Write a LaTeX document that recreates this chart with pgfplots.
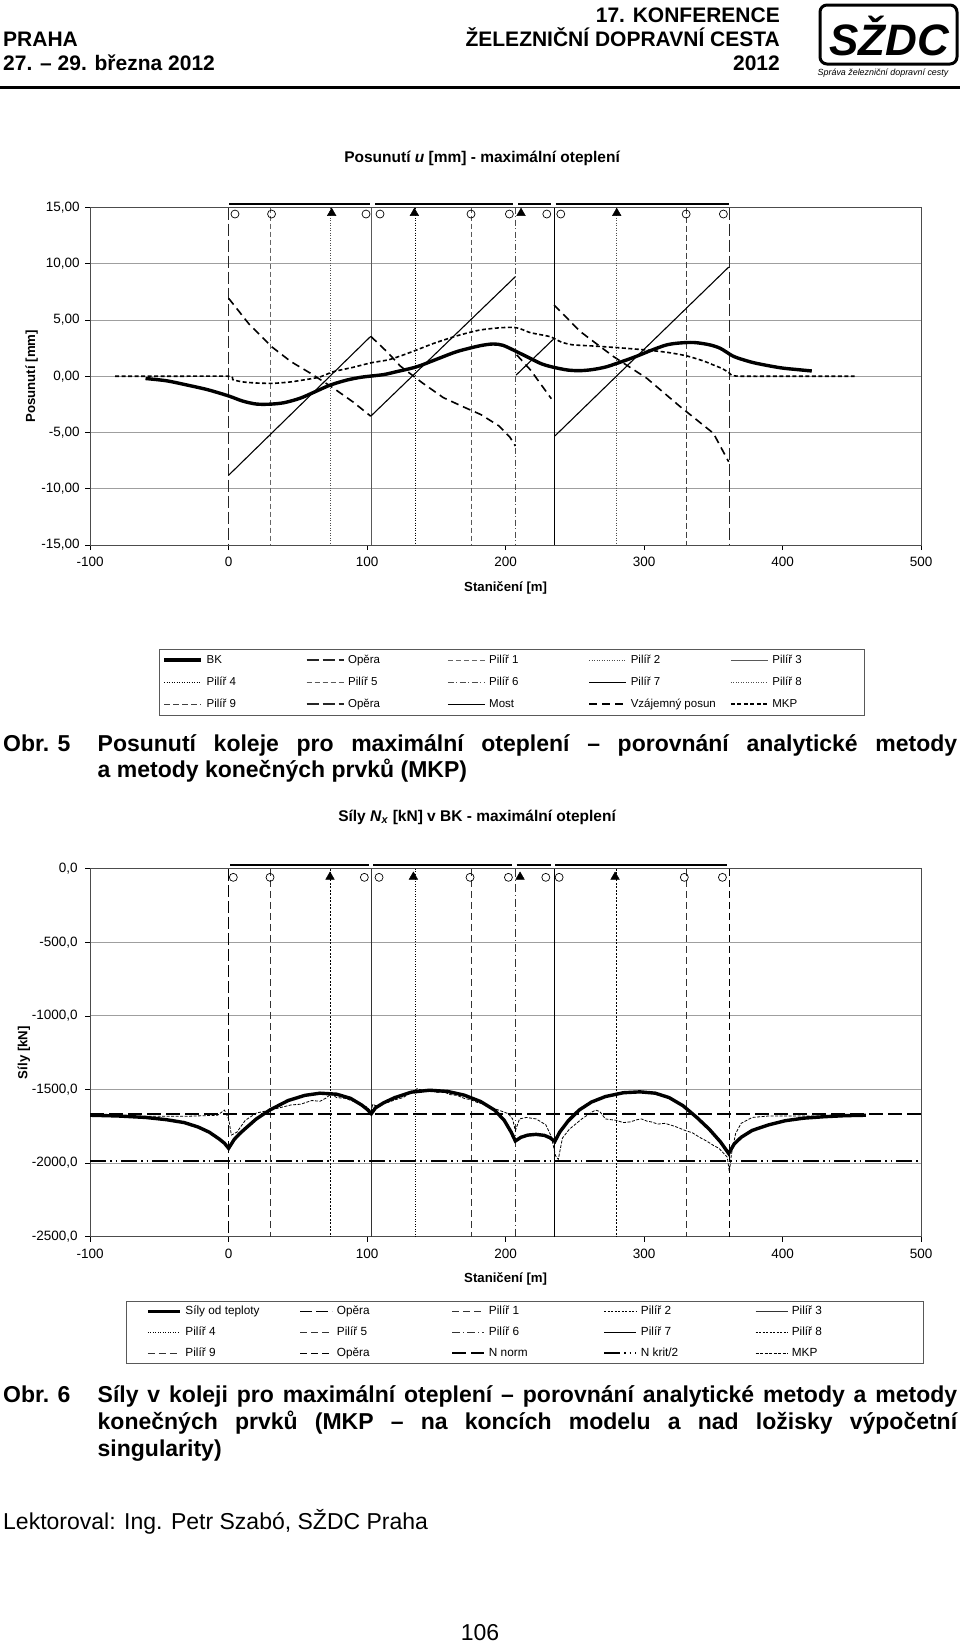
\documentclass[border=0pt]{standalone}
\usepackage{pgfplots}
\pgfplotsset{compat=1.18}
\usepackage{fontspec}
\setmainfont{Liberation Sans}
\newcommand\hdrfont{\fontsize{21}{25}\selectfont\bfseries}
\newcommand\capfont{\fontsize{23}{26.5}\selectfont\bfseries}
\newcommand\bodyfont{\fontsize{23}{26.5}\selectfont}
\newcommand\la[1]{\makebox[85pt][l]{#1}}
\newcommand\lb[1]{\makebox[108pt][l]{#1}}
\tikzset{
 c1bk/.style={black, line width=3.4pt},
 c1op/.style={black!85, line width=1.5pt, dash pattern=on 12pt off 4pt},
 c1p1/.style={gray!80!black, line width=0.7pt, dash pattern=on 5pt off 3pt},
 c1p2/.style={gray!60!black, line width=0.7pt, dash pattern=on 1pt off 1.5pt},
 c1p3/.style={gray!70!black, line width=0.7pt},
 c1p4/.style={black, line width=0.7pt, dash pattern=on 1pt off 1.5pt},
 c1p5/.style={gray!70!black, line width=0.7pt, dash pattern=on 5pt off 3pt},
 c1p6/.style={gray!60!black, line width=0.7pt, dash pattern=on 6pt off 2.5pt on 1pt off 2.5pt},
 c1p7/.style={black, line width=0.8pt},
 c1p8/.style={gray!60!black, line width=0.7pt, dash pattern=on 1pt off 1.5pt},
 c1p9/.style={gray!50!black, line width=0.8pt, dash pattern=on 6pt off 3pt},
 c1most/.style={black, line width=1.1pt},
 c1vz/.style={black, line width=1.6pt, dash pattern=on 8pt off 5pt},
 c1mkp/.style={black, line width=1.6pt, dash pattern=on 4pt off 2.5pt},
 c2sily/.style={black, line width=3.4pt},
 c2op/.style={black, line width=1.5pt, dash pattern=on 12pt off 4pt},
 c2p1/.style={black!80, line width=0.8pt, dash pattern=on 7pt off 4pt},
 c2p2/.style={black, line width=1pt, dash pattern=on 2pt off 1.5pt},
 c2p3/.style={black!80, line width=0.7pt},
 c2p4/.style={black, line width=0.7pt, dash pattern=on 1pt off 1.5pt},
 c2p5/.style={black!80, line width=0.8pt, dash pattern=on 7pt off 4pt},
 c2p6/.style={black!80, line width=0.8pt, dash pattern=on 8pt off 3pt on 1pt off 3pt},
 c2p7/.style={black, line width=0.8pt},
 c2p8/.style={black, line width=0.9pt, dash pattern=on 2pt off 1.5pt},
 c2p9/.style={black!80, line width=0.8pt, dash pattern=on 7pt off 4pt},
 c2op2/.style={black, line width=0.9pt, dash pattern=on 7pt off 4pt},
 c2nn/.style={black, line width=2pt, dash pattern=on 14pt off 5pt},
 c2nk/.style={black, line width=2pt, dash pattern=on 16pt off 4pt on 1.5pt off 4pt on 1.5pt off 4pt},
 c2mkp/.style={black, line width=0.8pt, dash pattern=on 3pt off 1.5pt},
}
\pgfplotsset{
 every axis title shift=0pt,
 pagechart/.style={
  scale only axis, width=831.1pt,
  xmin=-100, xmax=500, clip=false,
  xtick={-100,0,100,200,300,400,500},
  xticklabels={-100,0,100,200,300,400,500},
  tick pos=left, tick align=outside, major tick length=5pt,
  tick style={black, line width=0.8pt},
  ymajorgrids, grid style={gray!75, line width=0.9pt},
  axis line style={gray!60!black, line width=0.9pt},
  ticklabel style={font=\fontsize{13.5}{16}\selectfont},
  xticklabel style={yshift=-4pt},
  label style={font=\fontsize{13.2}{15}\selectfont\bfseries},
  legend cell align=left,
 }
}
\begin{document}
\begin{tikzpicture}
\path[use as bounding box] (0pt,0pt) rectangle (960pt,-1644pt);
% header
\node[anchor=base west, inner sep=0, font=\hdrfont] at (3pt,-46.3pt) {PRAHA};
\node[anchor=base west, inner sep=0, font=\hdrfont] at (3pt,-70.4pt) {27. – 29. března 2012};
\node[anchor=base east, inner sep=0, font=\hdrfont] at (780pt,-22.2pt) {17. KONFERENCE};
\node[anchor=base east, inner sep=0, font=\hdrfont] at (780pt,-46.3pt) {ŽELEZNIČNÍ DOPRAVNÍ CESTA};
\node[anchor=base east, inner sep=0, font=\hdrfont] at (780pt,-70.4pt) {2012};
\draw[line width=3pt, rounded corners=7pt] (820pt,-5pt) rectangle (957pt,-64pt);
\node[inner sep=0, font=\fontsize{44}{44}\selectfont\bfseries\itshape] at (889pt,-36pt) {SŽDC};
\node[anchor=base, inner sep=0, font=\fontsize{8.9}{10}\selectfont\itshape] at (883pt,-75pt) {Správa železniční dopravní cesty};
\draw[line width=3pt] (0pt,-87pt) -- (960pt,-87pt);

% ---------------- chart 1 ----------------
\begin{axis}[pagechart,
  at={(90.1pt,-545pt)}, anchor=south west, height=337.5pt,
  ymin=-15, ymax=15,
  ytick={-15,-10,-5,0,5,10,15},
  yticklabels={{-15,00},{-10,00},{-5,00},{0,00},{5,00},{10,00},{15,00}},
  yticklabel style={xshift=-2pt},
  xlabel={Staničení [m]}, ylabel={Posunutí [mm]},
  xlabel style={at={(axis description cs:0.5,-0.127)}, anchor=center},
  ylabel style={at={(axis description cs:-0.0585,0.5)}, anchor=south},
  title={Posunutí \textit{u} [mm] - maximální oteplení},
  title style={at={(axis description cs:0.4716,1.1467)}, anchor=center, font=\fontsize{15.5}{18}\selectfont\bfseries},
  legend image code/.code={\draw[#1] (0pt,0pt) -- (37pt,0pt);},
  legend style={at={(axis description cs:0.0829,-0.308)}, anchor=north west,
    draw=gray!70!black, line width=0.8pt, legend columns=5,
    font=\fontsize{11.5}{13}\selectfont, inner xsep=3pt, inner ysep=1.5pt, row sep=3.4pt,
    /tikz/every even column/.append style={column sep=10.4pt},
    nodes={inner sep=3.8pt, text height=8.5pt, text depth=2.5pt}},
]
\addplot[forget plot, c1op] coordinates {(0,15) (0,-15)};
\addplot[forget plot, c1p1] coordinates {(30,15) (30,-15)};
\addplot[forget plot, c1p2] coordinates {(73.5,15) (73.5,-15)};
\addplot[forget plot, c1p3] coordinates {(103,15) (103,-15)};
\addplot[forget plot, c1p4] coordinates {(134.5,15) (134.5,-15)};
\addplot[forget plot, c1p5] coordinates {(175,15) (175,-15)};
\addplot[forget plot, c1p6] coordinates {(207,15) (207,-15)};
\addplot[forget plot, c1p7] coordinates {(235.5,15) (235.5,-15)};
\addplot[forget plot, c1p8] coordinates {(280,15) (280,-15)};
\addplot[forget plot, c1p9] coordinates {(330.5,15) (330.5,-15)};
\addplot[forget plot, c1op] coordinates {(361.5,15) (361.5,-15)};
% bridge deck
\addplot[forget plot, black, line width=2.6pt, unbounded coords=jump] coordinates {(0.5,15.31) (102,15.31) (103,nan) (106,15.31) (205.5,15.31) (207,nan) (209,15.31) (233,15.31) (234,nan) (236,15.31) (361,15.31)};
% bearings
\addplot[forget plot, only marks, mark=o, mark size=4pt, mark options={black, fill=white, line width=0.7pt}] coordinates {(4.6,14.42) (31,14.42) (99.2,14.42) (109.3,14.42) (175,14.42) (202.7,14.42) (229.7,14.42) (239.8,14.42) (330.3,14.42) (357.2,14.42)};
\addplot[forget plot, only marks, mark=triangle*, mark size=5pt, black] coordinates {(74.4,14.5) (134.1,14.5) (211.1,14.5) (280.2,14.5)};
% Most
\addplot[forget plot, c1most, unbounded coords=jump] coordinates {(0,-8.8) (102.6,3.55) (102.8,nan) (102.6,-3.55) (207,8.85) (207.2,nan) (207.5,0.1) (234.5,3.3) (235,nan) (235.6,-5.3) (361,9.7)};
% Vzajemny posun
\addplot[forget plot, c1vz, unbounded coords=jump] coordinates {(0,6.93) (15,4.6) (31,2.63) (45,1.3) (60,0.2) (75,-1.0) (90,-2.3) (102.6,-3.55) (102.8,nan) (102.6,3.55) (115,2.1) (124,0.9) (140,-0.6) (155,-1.9) (170,-2.75) (182,-3.4) (195,-4.4) (203,-5.4) (207,-6.2) (207.5,nan) (208,1.9) (218,0.55) (233,-2.0) (234,nan) (235,6.33) (254,3.96) (278,1.74) (302,-0.19) (326,-2.7) (350,-5.07) (361,-7.6)};
% MKP
\addplot[forget plot, c1mkp, smooth, tension=0.4] coordinates {(-82,0) (-40,0) (0,0) (3,-0.3) (10,-0.5) (20,-0.6) (32,-0.63) (45,-0.5) (58,-0.25) (66,-0.06) (75.5,0.4) (90,0.8) (103,1.2) (115,1.45) (124,1.8) (135,2.3) (148,2.92) (165,3.6) (181,4.1) (195,4.3) (205.6,4.35) (211,4.2) (218,3.87) (232,3.52) (240,3.05) (248,2.8) (263,2.69) (280,2.55) (302,2.33) (318,2.1) (331,1.8) (343,1.35) (350,1.0) (356,0.7) (361,0.35) (366,0.02) (400,0) (452,0)};
% BK
\addplot[forget plot, c1bk, smooth, tension=0.5] coordinates {(-60,-0.2) (-45,-0.4) (-30,-0.78) (-15,-1.2) (0,-1.75) (10,-2.2) (20,-2.47) (30,-2.48) (40,-2.35) (51.5,-1.96) (62,-1.4) (73,-0.8) (85,-0.35) (95,-0.1) (103,0.02) (112,0.15) (121,0.4) (136,0.85) (152,1.6) (165,2.2) (181,2.7) (191,2.87) (198,2.75) (205.6,2.33) (217.6,1.6) (226,1.1) (234.5,0.8) (245,0.55) (254,0.5) (263,0.6) (273,0.85) (285,1.35) (295,1.8) (305,2.3) (316,2.78) (325,2.95) (336,3.0) (347,2.8) (355,2.48) (364,1.8) (372,1.45) (381,1.15) (398,0.76) (410,0.6) (421,0.47)};
% legend
\addlegendimage{c1bk}\addlegendentry{\la{BK}}
\addlegendimage{c1op}\addlegendentry{\la{Opěra}}
\addlegendimage{c1p1}\addlegendentry{\la{Pilíř 1}}
\addlegendimage{c1p2}\addlegendentry{\la{Pilíř 2}}
\addlegendimage{c1p3}\addlegendentry{\la{Pilíř 3}}
\addlegendimage{c1p4}\addlegendentry{\la{Pilíř 4}}
\addlegendimage{c1p5}\addlegendentry{\la{Pilíř 5}}
\addlegendimage{c1p6}\addlegendentry{\la{Pilíř 6}}
\addlegendimage{c1p7}\addlegendentry{\la{Pilíř 7}}
\addlegendimage{c1p8}\addlegendentry{\la{Pilíř 8}}
\addlegendimage{c1p9}\addlegendentry{\la{Pilíř 9}}
\addlegendimage{c1op}\addlegendentry{\la{Opěra}}
\addlegendimage{c1most}\addlegendentry{\la{Most}}
\addlegendimage{c1vz}\addlegendentry{\la{Vzájemný posun}}
\addlegendimage{c1mkp}\addlegendentry{\la{MKP}}
\end{axis}

% caption 5
\node[anchor=base west, inner sep=0, font=\capfont] at (3pt,-751pt) {Obr. 5};
\node[anchor=base west, inner sep=0, font=\capfont] at (97.5pt,-751pt) {\makebox[859.5pt][s]{Posunutí koleje pro maximální oteplení – porovnání analytické metody}};
\node[anchor=base west, inner sep=0, font=\capfont] at (97.5pt,-777pt) {a metody konečných prvků (MKP)};

% ---------------- chart 2 ----------------
\begin{axis}[pagechart,
  at={(90.1pt,-1236.6pt)}, anchor=south west, height=367.8pt,
  ymin=-2500, ymax=0,
  ytick={-2500,-2000,-1500,-1000,-500,0},
  yticklabels={{-2500,0},{-2000,0},{-1500,0},{-1000,0},{-500,0},{0,0}},
  yticklabel style={xshift=-4pt},
  xlabel={Staničení [m]}, ylabel={Síly [kN]},
  xlabel style={at={(axis description cs:0.5,-0.114)}, anchor=center},
  ylabel style={at={(axis description cs:-0.0678,0.5)}, anchor=south},
  title={Síly \textit{N}\textsubscript{\textit{x}} [kN] v BK - maximální oteplení},
  title style={at={(axis description cs:0.4656,1.1395)}, anchor=center, font=\fontsize{15.5}{18}\selectfont\bfseries},
  legend image code/.code={\draw[#1] (0pt,0pt) -- (32pt,0pt);},
  legend style={at={(axis description cs:0.043,-0.174)}, anchor=north west,
    draw=gray!70!black, line width=0.8pt, legend columns=5,
    font=\fontsize{11.8}{13}\selectfont, inner xsep=20pt, inner ysep=1pt, row sep=2.4pt,
    /tikz/every even column/.append style={column sep=2.4pt},
    nodes={inner sep=3.8pt, text height=8.5pt, text depth=2.5pt}},
]
\addplot[forget plot, c2op] coordinates {(0,0) (0,-2500)};
\addplot[forget plot, c2p1] coordinates {(30,0) (30,-2500)};
\addplot[forget plot, c2p2] coordinates {(73.5,0) (73.5,-2500)};
\addplot[forget plot, c2p3] coordinates {(103,0) (103,-2500)};
\addplot[forget plot, c2p4] coordinates {(134.5,0) (134.5,-2500)};
\addplot[forget plot, c2p5] coordinates {(175,0) (175,-2500)};
\addplot[forget plot, c2p6] coordinates {(207,0) (207,-2500)};
\addplot[forget plot, c2p7] coordinates {(235.5,0) (235.5,-2500)};
\addplot[forget plot, c2p8] coordinates {(280,0) (280,-2500)};
\addplot[forget plot, c2p9] coordinates {(330.5,0) (330.5,-2500)};
\addplot[forget plot, c2op2] coordinates {(361.5,0) (361.5,-2500)};
\addplot[forget plot, black, line width=2.6pt, unbounded coords=jump] coordinates {(1,25) (101.6,25) (103,nan) (104.5,25) (204.8,25) (206,nan) (208,25) (232.6,25) (234,nan) (235.7,25) (359.6,25)};
\addplot[forget plot, only marks, mark=o, mark size=4pt, mark options={black, fill=white, line width=0.7pt}] coordinates {(3.4,-58) (29.9,-58) (98,-58) (108.6,-58) (174.3,-58) (202,-58) (229,-58) (238.6,-58) (329,-58) (356.5,-58)};
\addplot[forget plot, only marks, mark=triangle*, mark size=5pt, black] coordinates {(73.2,-55) (133.4,-55) (210.4,-55) (279,-55)};
% N norm, N krit/2
\addplot[forget plot, c2nn] coordinates {(-100,-1668) (500,-1668)};
\addplot[forget plot, c2nk] coordinates {(-100,-1988) (500,-1988)};
% MKP
\addplot[forget plot, c2mkp] coordinates {(-100,-1682) (-30,-1682) (-8,-1675) (-3,-1640) (0,-1700) (2,-1810) (6,-1790) (12,-1710) (20,-1660) (30,-1640) (45,-1605) (52,-1600) (60,-1575) (66,-1580) (70,-1560) (74,-1530) (78,-1555) (84,-1560) (90,-1580) (100,-1620) (103,-1650) (104,-1600) (106,-1610) (110,-1600) (116,-1585) (120,-1570) (126,-1555) (130,-1530) (136,-1495) (140,-1505) (145,-1500) (150,-1520) (155,-1515) (160,-1535) (165,-1540) (170,-1560) (175,-1570) (180,-1590) (185,-1600) (190,-1625) (195,-1640) (202,-1665) (205,-1700) (207,-1780) (210,-1700) (215,-1690) (222,-1700) (229,-1740) (233,-1820) (236,-1950) (238,-1975) (241,-1830) (246,-1770) (255,-1700) (262,-1655) (265,-1640) (268,-1650) (272,-1700) (276,-1705) (280,-1710) (285,-1725) (290,-1720) (295,-1705) (298,-1700) (302,-1715) (305,-1720) (310,-1735) (315,-1730) (322,-1750) (330,-1780) (335,-1795) (340,-1825) (345,-1850) (350,-1880) (354,-1900) (357,-1930) (360,-1960) (361.5,-2060) (363,-1940) (366,-1800) (370,-1730) (378,-1690) (390,-1680) (460,-1680)};
% Sily od teploty
\addplot[forget plot, c2sily] coordinates {(-100,-1675) (-80,-1680) (-60,-1690) (-45,-1705) (-32,-1725) (-22,-1755) (-14,-1790) (-7,-1835) (-3,-1865) (0,-1900) (4,-1840) (8,-1800) (12,-1766) (20,-1700) (30,-1638) (43,-1575) (55,-1540) (66,-1525) (78,-1532) (88,-1560) (96,-1605) (100,-1635) (103,-1665) (106,-1625) (112,-1590) (120,-1555) (132,-1518) (145,-1505) (158,-1513) (170,-1538) (182,-1582) (192,-1640) (199,-1710) (204,-1790) (207,-1850) (211,-1825) (216,-1810) (222,-1805) (228,-1812) (232,-1828) (235.5,-1853) (239,-1790) (245,-1715) (253,-1640) (262,-1585) (272,-1548) (285,-1522) (297,-1516) (308,-1525) (318,-1555) (328,-1610) (338,-1690) (347,-1770) (355,-1855) (361,-1935) (365,-1870) (370,-1825) (378,-1778) (390,-1740) (402,-1712) (415,-1695) (430,-1685) (445,-1678) (460,-1675)};
\addlegendimage{c2sily}\addlegendentry{\lb{Síly od teploty}}
\addlegendimage{c2op}\addlegendentry{\lb{Opěra}}
\addlegendimage{c2p1}\addlegendentry{\lb{Pilíř 1}}
\addlegendimage{c2p2}\addlegendentry{\lb{Pilíř 2}}
\addlegendimage{c2p3}\addlegendentry{\lb{Pilíř 3}}
\addlegendimage{c2p4}\addlegendentry{\lb{Pilíř 4}}
\addlegendimage{c2p5}\addlegendentry{\lb{Pilíř 5}}
\addlegendimage{c2p6}\addlegendentry{\lb{Pilíř 6}}
\addlegendimage{c2p7}\addlegendentry{\lb{Pilíř 7}}
\addlegendimage{c2p8}\addlegendentry{\lb{Pilíř 8}}
\addlegendimage{c2p9}\addlegendentry{\lb{Pilíř 9}}
\addlegendimage{c2op2}\addlegendentry{\lb{Opěra}}
\addlegendimage{c2nn}\addlegendentry{\lb{N norm}}
\addlegendimage{c2nk}\addlegendentry{\lb{N krit/2}}
\addlegendimage{c2mkp}\addlegendentry{\lb{MKP}}
\end{axis}

% caption 6
\node[anchor=base west, inner sep=0, font=\capfont] at (3pt,-1402pt) {Obr. 6};
\node[anchor=base west, inner sep=0, font=\capfont] at (97.5pt,-1402pt) {\makebox[859.5pt][s]{Síly v koleji pro maximální oteplení – porovnání analytické metody a metody}};
\node[anchor=base west, inner sep=0, font=\capfont] at (97.5pt,-1429pt) {\makebox[859.5pt][s]{konečných prvků (MKP – na koncích modelu a nad ložisky výpočetní}};
\node[anchor=base west, inner sep=0, font=\capfont] at (97.5pt,-1456pt) {singularity)};

\node[anchor=base west, inner sep=0, font=\bodyfont] at (3pt,-1529.5pt) {Lektoroval: Ing. Petr Szabó, SŽDC Praha};
\node[anchor=base, inner sep=0, font=\bodyfont] at (480pt,-1640pt) {106};
\end{tikzpicture}
\end{document}
